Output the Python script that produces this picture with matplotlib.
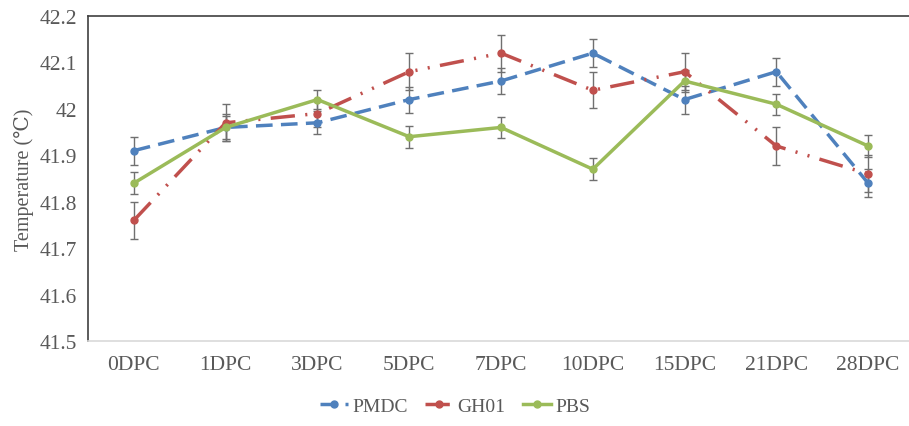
import numpy as np
import matplotlib.pyplot as plt

plt.rcParams['font.family'] = ['Liberation Serif', 'DejaVu Serif']

days = ["0DPC", "1DPC", "3DPC", "5DPC", "7DPC", "10DPC", "15DPC", "21DPC", "28DPC"]

pmdc = [41.91, 41.96, 41.97, 42.02, 42.06, 42.12, 42.02, 42.08, 41.84]
pmdc_err = [0.03, 0.03, 0.025, 0.028, 0.027, 0.03, 0.03, 0.03, 0.03]

gh01 = [41.76, 41.97, 41.99, 42.08, 42.12, 42.04, 42.08, 41.92, 41.86]
gh01_err = [0.04, 0.04, 0.03, 0.04, 0.04, 0.039, 0.04, 0.04, 0.04]

pbs = [41.84, 41.96, 42.02, 41.94, 41.96, 41.87, 42.06, 42.01, 41.92]
pbs_err = [0.024, 0.025, 0.02, 0.024, 0.022, 0.024, 0.023, 0.023, 0.023]

yticks = [41.5, 41.6, 41.7, 41.8, 41.9, 42.0, 42.1, 42.2]
ytick_labels = ["41.5", "41.6", "41.7", "41.8", "41.9", "42", "42.1", "42.2"]

fig = plt.figure(figsize=(9.09, 4.27), dpi=100)
# plot area: left 88px, top 17px, bottom 342px, 9 categories of ~92px
ax = fig.add_axes([88 / 909, 1 - 342 / 427, 826 / 909, 325 / 427])

x = np.arange(len(days))

series = [
    ("PMDC", pmdc, pmdc_err, "#4F81BD", (0, (4.8, 2.4))),
    ("GH01", gh01, gh01_err, "#C0504D", (0, (7, 3, 0.6, 3, 0.6, 3))),
    ("PBS", pbs, pbs_err, "#9BBB59", "-"),
]

for name, vals, errs, color, ls in series:
    ax.errorbar(x, vals, yerr=errs, fmt="none", ecolor="#707070",
                elinewidth=1.0, capsize=3, capthick=1.0, zorder=2)
    ax.plot(x, vals, color=color, linestyle=ls, linewidth=2.5,
            marker="o", markersize=5, label=name, zorder=3)

ax.set_xlim(-0.5, len(days) - 0.5)
ax.set_ylim(41.5, 42.2)
ax.set_xticks(x)
ax.set_xticklabels(days)
ax.set_yticks(yticks)
ax.set_yticklabels(ytick_labels)
ax.tick_params(axis="both", length=0, labelsize=15.5, labelcolor="#595959")
ax.tick_params(axis="x", pad=10)
ax.tick_params(axis="y", pad=8)

ax.spines["left"].set_color("#404040")
ax.spines["top"].set_color("#404040")
ax.spines["right"].set_visible(False)
ax.spines["bottom"].set_color("#D9D9D9")
for s in ax.spines.values():
    s.set_linewidth(1.2)

ax.set_ylabel("Temperature (\u2103)", fontsize=14.5, color="#595959", labelpad=4)

leg = fig.legend(loc="center", bbox_to_anchor=(455 / 909, 1 - 407 / 427),
                 ncol=3, frameon=False, fontsize=14, handlelength=1.45,
                 columnspacing=0.9, handletextpad=0.2)
for t in leg.get_texts():
    t.set_color("#595959")

fig.savefig("out.png", dpi=100)
